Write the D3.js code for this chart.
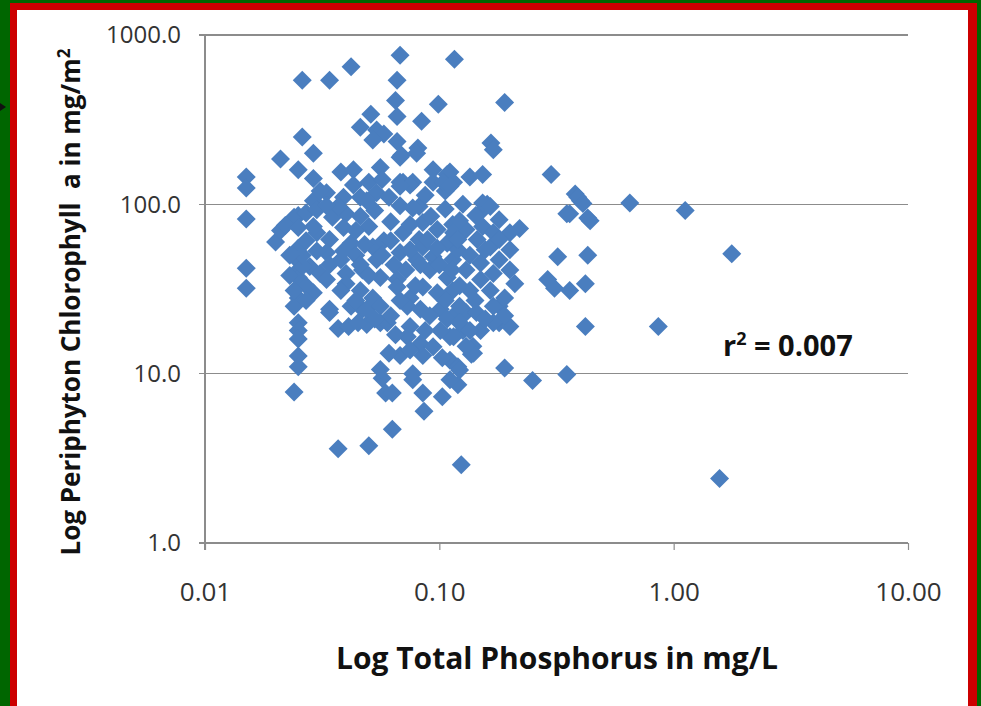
<!DOCTYPE html>
<html>
<head>
<meta charset="utf-8">
<script src="https://cdn.jsdelivr.net/npm/d3@7"></script>
<style>
  html, body { margin: 0; padding: 0; background: #006600; }
  svg { display: block; }
  text { white-space: pre; }
</style>
</head>
<body>
<svg id="chart" width="981" height="706"></svg>
<script>
// ---- data ----
const xTicks = [0.01, 0.1, 1, 10];
const yTicks = [1, 10, 100, 1000];
const xTitle = "Log Total Phosphorus in mg/L";
const yTitle = "Log Periphyton Chlorophyll  a in mg/m";
const r2Label = "0.007";

// total phosphorus (mg/L)
const tp = [
  0.068,0.116,0.042,0.026,0.034,0.066,0.065,0.099,0.19,0.051,
  0.066,0.084,0.046,0.054,0.058,0.052,0.066,0.026,0.021,0.029,
  0.025,0.029,0.038,0.043,0.056,0.069,0.081,0.094,0.111,0.068,
  0.094,0.135,0.153,0.166,0.30,0.106,0.126,0.16,0.15,0.38,
  0.40,0.65,1.12,0.36,0.43,0.39,0.35,0.44,1.77,0.32,
  0.43,0.31,0.36,0.42,0.29,0.42,0.86,0.35,1.57,0.25,
  0.19,0.22,0.20,0.20,0.21,0.19,0.18,0.18,0.20,0.19,
  0.13,0.115,0.126,0.111,0.139,0.137,0.111,0.12,0.122,0.12,
  0.111,0.124,0.14,0.085,0.103,0.068,0.077,0.085,0.103,0.086,
  0.059,0.063,0.057,0.063,0.037,0.05,0.025,0.025,0.024,0.015,
  0.015,0.015,0.015,0.015,0.020,0.021,0.025,0.025,0.025,0.025,
  0.025,0.025,0.024,0.025,0.025,0.025,0.029,0.034,0.037,0.041,
  0.049,0.056,0.047,0.080,0.108,0.115,0.17,0.05,0.07,0.077,
  0.029,0.033,0.039,0.046,0.054,0.061,0.082,0.153,0.024,0.027,
  0.035,0.040,0.022,0.025,0.030,0.039,0.05,0.062,0.07,0.085,
  0.098,0.114,0.13,0.153,0.17,0.034,0.042,0.052,0.082,0.108,
  0.145,0.165,0.024,0.028,0.033,0.038,0.054,0.068,0.08,0.094,
  0.114,0.13,0.15,0.17,0.031,0.040,0.047,0.056,0.066,0.091,
  0.108,0.040,0.046,0.052,0.066,0.075,0.085,0.098,0.114,0.135,
  0.17,0.034,0.042,0.049,0.056,0.073,0.083,0.101,0.122,0.144,
  0.045,0.06,0.075,0.108,0.122,0.15,0.17,0.073,0.083,0.115,
  0.13,0.075,0.104,0.165,0.077,0.41,0.111,0.068,0.068,0.030,
  0.026,0.061,0.075,0.094,0.056,0.077,0.115,0.085,0.046,0.053,
  0.068,0.058,0.092,0.12,0.044,0.064,0.1,
  0.037,0.044,0.048,0.057,0.062,0.075,0.075,0.089,0.106,0.12,
  0.135,0.157,0.18,0.165,0.142,0.122,0.106,0.091,0.079,0.068,
  0.062,0.053,0.044,0.038,0.033,0.034,0.039,0.030,0.029,0.033,
  0.043,0.049,0.057,0.087,0.122,0.143,0.18,0.18,0.20,0.157,
  0.135,0.101,0.087,0.065,0.027,0.027,0.023,0.024,0.026,0.027,
  0.023,0.031,0.098,0.113,0.15,0.083,0.072,0.046,0.05
];
// periphyton chlorophyll a (mg/m2)
const chl = [
  760,720,650,540,540,540,410,390,400,340,
  330,310,285,275,260,240,235,250,185,200,
  160,142,155,160,165,195,215,160,155,135,
  135,145,150,230,150,120,100,100,90,115,
  105,102,92,88,83,110,88,80,51,49,
  50,32,31,34,36,19,19,9.9,2.4,9.1,
  10.8,72,68,54,34,28,25,20,19,22,
  23,22,18,16.5,14.5,13,12,11,10.5,8.6,
  9.2,2.9,13.2,12.8,12.4,12.8,9.2,7.7,7.3,6.0,
  7.7,7.7,9.4,4.7,3.6,3.75,12.7,11,7.8,145,
  125,82,42,32,60,70,86,55,47,41,
  37,28,25,20,18,16,30,23,18.5,19,
  19.5,20,24,200,150,135,210,135,135,135,
  105,117,110,110,117,110,97,102,84,89,
  84,88,75,73,68,73,74,79,68,78,
  71,76,71,74,68,62,59,56,62,59,
  62,56,49,43,52,47,47,52,47,49,
  47,41,45,39,39,39,41,37,36,41,
  37,34,31,28,32.5,28,32.5,30,31,31,
  25,24,25,24,25,25,24,24,25,23,
  20,20,19,21,20,18,20,16.5,15,16.5,
  14.5,130,135,97,95,101,128,128,190,93,
  43,13.2,13.8,14.4,10.6,10,68,56,85,92,
  98,61,85,54,50,44,44,
  97,70,58,50,61,76,54,62,94,62,
  50,54,47,31,27,33,27,22,33,27,
  22,21,27,31,36,44,53,53,74,98,
  130,105,140,113,80,86,81,62,41,21,
  18,18,18,17,33,27,38,31,50,61,
  50,120,55,41,36,44,41,44,38
];

// ---- drawing ----
const svg = d3.select("#chart");

// frame
svg.append("rect").attr("x", 0).attr("y", 0).attr("width", 981).attr("height", 706).attr("fill", "#006600");
svg.append("rect").attr("x", 10).attr("y", 3).attr("width", 967).attr("height", 710).attr("fill", "#cc0000");
svg.append("rect").attr("x", 17).attr("y", 10).attr("width", 951).attr("height", 700).attr("fill", "#ffffff");
// small arrow-head artifact on the left
svg.append("path").attr("d", "M0,103 L6,107 L0,111 Z").attr("fill", "#111");

const x = d3.scaleLog().domain([0.01, 10]).range([205, 908]);
const y = d3.scaleLog().domain([1, 1000]).range([543, 35]);
const gridColor = "#8c8c8c";

// horizontal gridlines (incl. bottom axis line), extending over the tick length
svg.append("g").selectAll("line").data(yTicks).join("line")
  .attr("x1", x(0.01) - 6).attr("x2", x(10))
  .attr("y1", d => y(d)).attr("y2", d => y(d))
  .attr("stroke", gridColor).attr("stroke-width", 1.2).attr("shape-rendering", "crispEdges");
// vertical axis line
svg.append("line").attr("x1", x(0.01)).attr("x2", x(0.01))
  .attr("y1", y(1000)).attr("y2", y(1) + 7)
  .attr("stroke", gridColor).attr("stroke-width", 1.2).attr("shape-rendering", "crispEdges");

// y axis labels
const yAxis = d3.axisLeft(y).tickValues(yTicks).tickFormat(d3.format(".1f")).tickSize(0).tickPadding(24);
const gy = svg.append("g").attr("transform", `translate(${x(0.01)},0)`).call(yAxis);
gy.select(".domain").remove();
gy.selectAll("text").attr("font-family", "'Open Sans', sans-serif").attr("font-size", 24).attr("fill", "#333");

// x axis ticks & labels
const xAxis = d3.axisBottom(x).tickValues(xTicks).tickFormat(d3.format(".2f")).tickSize(7).tickPadding(33);
const gx = svg.append("g").attr("transform", `translate(0,${y(1)})`).call(xAxis);
gx.select(".domain").remove();
gx.selectAll("line").attr("stroke", gridColor).attr("stroke-width", 1.2);
gx.selectAll("text").attr("font-family", "'Open Sans', sans-serif").attr("font-size", 26).attr("fill", "#333");

// diamonds
const pts = tp.map((v, i) => ({ tp: v, chl: chl[i] }));
const h = 9.5;
svg.append("g").selectAll("path").data(pts).join("path")
  .attr("transform", d => `translate(${x(d.tp)},${y(d.chl)})`)
  .attr("d", `M0,${-h} L${h},0 L0,${h} L${-h},0 Z`)
  .attr("fill", "#4a7ebf");

// axis titles
svg.append("text")
  .attr("x", 557).attr("y", 669)
  .attr("text-anchor", "middle")
  .attr("font-family", "'Open Sans', sans-serif").attr("font-weight", "bold")
  .attr("font-size", 30).attr("fill", "#111")
  .text(xTitle);

const yt = svg.append("text")
  .attr("transform", "translate(80,302) rotate(-90)")
  .attr("text-anchor", "middle")
  .attr("font-family", "'Open Sans', sans-serif").attr("font-weight", "bold")
  .attr("font-size", 26).attr("fill", "#111");
yt.append("tspan").text(yTitle);
yt.append("tspan").attr("dy", -10).attr("font-size", 17).text("2");

// r^2 annotation
const rt = svg.append("text")
  .attr("x", 723).attr("y", 356)
  .attr("font-family", "'Open Sans', sans-serif").attr("font-weight", "bold")
  .attr("font-size", 29).attr("fill", "#111");
rt.append("tspan").text("r");
rt.append("tspan").attr("dy", -11).attr("font-size", 18).text("2");
rt.append("tspan").attr("dy", 11).text(" = " + r2Label);
</script>
</body>
</html>
